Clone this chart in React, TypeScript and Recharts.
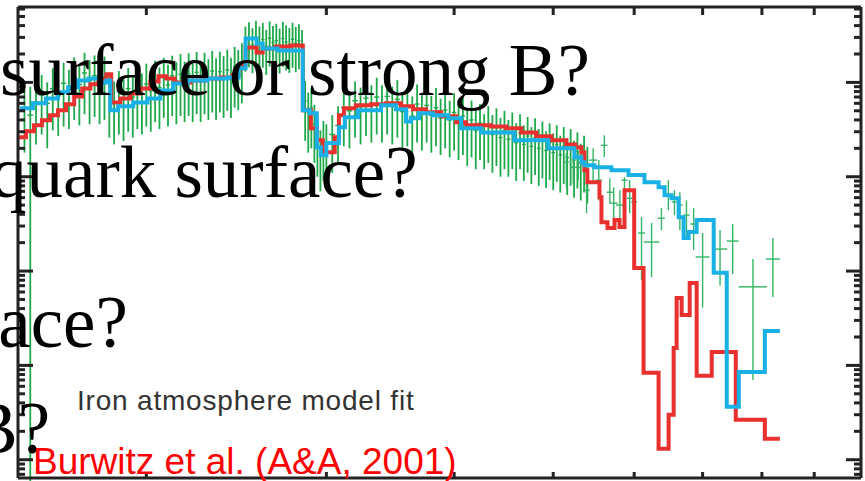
import React from 'react';
import { ComposedChart, Line, Scatter, ErrorBar, XAxis, YAxis } from 'recharts';

// energy axis (keV) ticks
const energyTicks = [0.2, 0.3, 0.4, 0.5, 0.6, 0.7, 0.8, 0.9];

// flux axis decades and minor ticks
const fluxMajorTicks = [0.01, 0.1, 1, 10, 100];
const fluxMinorTicks = [
  0.007, 0.008, 0.009,
  0.02, 0.03, 0.04, 0.05, 0.06, 0.07, 0.08, 0.09,
  0.2, 0.3, 0.4, 0.5, 0.6, 0.7, 0.8, 0.9,
  2, 3, 4, 5, 6, 7, 8, 9,
  20, 30, 40, 50, 60, 70, 80, 90,
  200, 300, 400, 500, 600,
];

// red model: [energy, flux], stepped
const redFit: [number, number][] = [
  [0.1498, 26.2], [0.1525, 30.3], [0.1553, 35.1], [0.1581, 39.6], [0.161, 44.8],
  [0.1639, 50.6], [0.1669, 58.5], [0.17, 71.0], [0.1731, 86.4], [0.1763, 95.3],
  [0.1795, 107.6], [0.1828, 122], [0.1848, 61.4], [0.1886, 67.7], [0.1929, 76.4],
  [0.1973, 86.4], [0.2018, 102.5], [0.2055, 116], [0.2092, 110], [0.2131, 100],
  [0.2209, 105], [0.2285, 110], [0.2364, 113], [0.2429, 119], [0.2462, 141],
  [0.249, 155], [0.2501, 234], [0.2564, 208], [0.2599, 229], [0.2676, 240],
  [0.2769, 246], [0.2845, 50.6], [0.2897, 32.6], [0.2936, 24.3], [0.2976, 18.2],
  [0.3057, 26.2], [0.3086, 44.8], [0.3121, 53.1], [0.3206, 57.1], [0.3317, 58.5],
  [0.3432, 60.0], [0.3549, 55.7], [0.3646, 51.9], [0.3755, 48.2], [0.3885, 43.7],
  [0.4018, 37.7], [0.4109, 35.1], [0.4348, 34.0], [0.4497, 32.6], [0.4653, 29.5],
  [0.4813, 26.8], [0.4979, 24.3], [0.515, 22.0], [0.5256, 20.5], [0.5328, 18.2],
  [0.5364, 11.7], [0.54, 8.74], [0.5549, 6.07], [0.5574, 3.3], [0.565, 2.86],
  [0.574, 3.47], [0.5805, 2.93], [0.5871, 7.19], [0.6, 1.08], [0.6128, 0.0833],
  [0.6339, 0.0131], [0.6484, 0.0299], [0.6558, 0.153], [0.6602, 0.519], [0.6677, 0.343],
  [0.6799, 0.746], [0.6907, 0.0775], [0.7145, 0.139], [0.7543, 0.0265], [0.8053, 0.0167],
  [0.833, 0.0167],
];

// blue model: [energy, flux], stepped
const blueFit: [number, number][] = [
  [0.1505, 53.1], [0.1549, 60.0], [0.1595, 67.7], [0.1639, 78.4], [0.1677, 88.6],
  [0.1715, 105], [0.1755, 110], [0.1803, 100], [0.1828, 105], [0.1844, 50.6],
  [0.1877, 55.7], [0.1942, 61.4], [0.2005, 67.7], [0.2064, 82.3], [0.2125, 97.6],
  [0.2194, 105], [0.2295, 110], [0.2402, 113], [0.2462, 141], [0.2501, 292],
  [0.2564, 258], [0.2599, 229], [0.2688, 218], [0.2845, 50.6], [0.289, 47.0],
  [0.2936, 20.5], [0.2963, 16.9], [0.3, 22.8], [0.3086, 33.4], [0.3128, 42.7],
  [0.3221, 50.6], [0.3393, 57.1], [0.3509, 51.9], [0.3589, 38.6], [0.363, 41.6],
  [0.3696, 47.0], [0.3815, 44.8], [0.3946, 41.6], [0.4063, 32.6], [0.4251, 29.5],
  [0.458, 24.3], [0.4945, 20.1], [0.5244, 16.1], [0.5328, 14.25], [0.5364, 13.2],
  [0.5486, 12.6], [0.5701, 11.7], [0.5924, 10.4], [0.6141, 8.74], [0.6339, 7.74],
  [0.6425, 6.37], [0.6528, 5.92], [0.6632, 3.73], [0.6707, 2.24], [0.6783, 2.59],
  [0.6907, 3.47], [0.7177, 0.957], [0.7391, 0.0364], [0.7594, 0.0853], [0.8053, 0.232],
  [0.833, 0.232],
];

// grating data below 0.3 keV: [energy, flux, error]
const lowBinHalf = 0.001;
const lowBins: [number, number, number][] = [
  [0.152, 52, 34], [0.154, 45, 44.995], [0.156, 62, 40], [0.158, 74, 46], [0.16, 60, 40],
  [0.162, 86, 55], [0.164, 72, 45], [0.166, 98, 64], [0.168, 84, 52], [0.17, 112, 72],
  [0.172, 95, 60], [0.174, 126, 80], [0.176, 104, 68], [0.178, 118, 75], [0.18, 98, 62],
  [0.182, 114, 74], [0.184, 76, 50], [0.186, 62, 40], [0.188, 80, 52], [0.19, 66, 42],
  [0.192, 86, 56], [0.194, 70, 44], [0.196, 92, 60], [0.198, 76, 48], [0.2, 96, 62],
  [0.202, 82, 52], [0.204, 104, 66], [0.206, 88, 56], [0.208, 112, 70], [0.21, 94, 60],
  [0.212, 118, 74], [0.214, 100, 64], [0.216, 122, 78], [0.218, 102, 64], [0.22, 124, 80],
  [0.222, 106, 68], [0.224, 128, 82], [0.226, 104, 66], [0.228, 126, 80], [0.23, 108, 68],
  [0.232, 132, 84], [0.234, 110, 70], [0.236, 130, 82], [0.238, 116, 74], [0.24, 136, 86],
  [0.242, 112, 70], [0.244, 146, 92], [0.246, 136, 85], [0.248, 160, 100], [0.25, 260, 130],
  [0.252, 290, 145], [0.254, 250, 125], [0.256, 300, 150], [0.258, 262, 130], [0.26, 285, 142],
  [0.262, 240, 120], [0.264, 295, 148], [0.266, 265, 132], [0.268, 278, 140], [0.27, 248, 124],
  [0.272, 292, 146], [0.274, 268, 134], [0.276, 252, 126], [0.278, 286, 143], [0.28, 258, 130],
  [0.282, 276, 138], [0.284, 240, 120], [0.286, 64, 40], [0.288, 48, 30], [0.29, 54, 34],
  [0.292, 36, 22], [0.294, 26, 16], [0.296, 19, 12], [0.298, 24, 15], [0.3, 22, 14],
];

// grating data 0.3-0.54 keV: [energy, flux, error]
const highBinHalf = 0.002;
const highBins: [number, number, number][] = [
  [0.304, 28, 17], [0.308, 35, 21], [0.312, 54, 33], [0.316, 50, 30], [0.32, 64, 38],
  [0.324, 55, 33], [0.328, 68, 41], [0.332, 58, 35], [0.336, 70, 42], [0.34, 58, 35],
  [0.344, 71, 43], [0.348, 56, 34], [0.352, 66, 40], [0.356, 49, 30], [0.36, 54, 33],
  [0.364, 44, 27], [0.368, 59, 36], [0.372, 47, 28], [0.376, 57, 34], [0.38, 45, 27],
  [0.384, 54, 33], [0.388, 42, 25], [0.392, 51, 31], [0.396, 40, 24], [0.4, 48, 29],
  [0.404, 37, 22], [0.408, 44, 27], [0.412, 33, 20], [0.416, 40, 24], [0.42, 31, 19],
  [0.424, 37, 22], [0.428, 29, 17], [0.432, 35, 21], [0.436, 28, 17], [0.44, 33, 20],
  [0.444, 26, 16], [0.448, 31, 19], [0.452, 25, 15], [0.456, 30, 18], [0.46, 23, 14],
  [0.464, 29, 17], [0.468, 22, 13], [0.472, 27, 16], [0.476, 21, 12.6], [0.48, 26, 15.6],
  [0.484, 20, 12], [0.488, 24, 14.4], [0.492, 19, 11.4], [0.496, 23, 13.8], [0.5, 18, 10.8],
  [0.504, 22, 13.2], [0.508, 17, 10.2], [0.512, 21, 12.6], [0.516, 16, 9.6], [0.52, 20, 12],
  [0.524, 15, 9], [0.528, 18.5, 11], [0.532, 14, 8.4], [0.536, 17, 10.2], [0.54, 13, 7.8],
];

// rebinned points above 0.5 keV: [energy, flux, low, high, half width]
const sparseBins: [number, number, number, number, number][] = [
  [0.515, 14.3, 7.7, 17.7, 0.003], [0.523, 12.6, 8.5, 16.1, 0.003], [0.529, 12.6, 9.2, 18.2, 0.003],
  [0.539, 7.2, 4.1, 12.6, 0.004], [0.547, 15.0, 8.5, 20.1, 0.005], [0.554, 9.2, 5.6, 15.0, 0.004],
  [0.561, 21.5, 16.1, 27.5, 0.004], [0.568, 6.85, 5.24, 9.64, 0.004], [0.573, 5.24, 3.47, 7.74, 0.005],
  [0.581, 5.0, 3.47, 7.19, 0.005], [0.587, 9.2, 4.1, 9.9, 0.004], [0.594, 5.9, 4.1, 9.2, 0.004],
  [0.6, 5.4, 3.9, 7.2, 0.004], [0.61, 2.53, 0.8, 3.73, 0.005], [0.624, 2.03, 0.86, 3.23, 0.011],
  [0.638, 3.64, 2.72, 4.64, 0.005], [0.648, 6.4, 4.4, 9.2, 0.004], [0.657, 5.4, 3.9, 7.2, 0.004],
  [0.665, 5.0, 2.72, 6.85, 0.004], [0.675, 3.92, 2.29, 5.64, 0.005], [0.686, 3.15, 1.67, 4.64, 0.005],
  [0.7, 1.41, 0.41, 2.53, 0.011], [0.728, 1.71, 0.7, 2.72, 0.012], [0.749, 2.08, 0.93, 3.15, 0.01],
  [0.784, 0.68, 0.07, 1.34, 0.025], [0.82, 1.34, 0.53, 2.24, 0.013],
];

const redData = redFit.map(([x, y]) => ({ x, y }));
const blueData = blueFit.map(([x, y]) => ({ x, y }));
const denseData = [
  ...lowBins.map(([x, y, e]) => ({ x, y, ex: lowBinHalf, ey: e })),
  ...highBins.map(([x, y, e]) => ({ x, y, ex: highBinHalf, ey: e })),
];
const sparseData = sparseBins.map(([x, y, lo, hi, dx]) => ({ x, y, ex: dx, ey: [y - lo, hi - y] }));

const GREEN = '#1fa84a';
const GREEN_LIGHT = '#35b565';
const RED = '#e8312f';
const BLUE = '#19b0e6';
const frame = { stroke: '#222', strokeWidth: 3 };
const noDot = () => <g />;
// keep tick marks, drop the labels
const noLabel = () => <g />;

export default function App() {
  const xProps = {
    type: 'number' as const,
    dataKey: 'x',
    scale: 'log' as const,
    domain: [0.1498, 1],
    allowDataOverflow: true,
    ticks: energyTicks,
    interval: 0 as const,
    mirror: true,
    tick: noLabel,
    tickMargin: 0,
    axisLine: frame,
    tickLine: frame,
  };
  const yProps = {
    type: 'number' as const,
    dataKey: 'y',
    scale: 'log' as const,
    domain: [0.0064, 630],
    allowDataOverflow: true,
    interval: 0 as const,
    mirror: true,
    tick: noLabel,
    tickMargin: 0,
    width: 1,
    tickLine: frame,
  };

  return (
    <div style={{ position: 'absolute', left: 0, top: 0, width: 865, height: 481, background: '#fff', overflow: 'hidden' }}>
      <ComposedChart width={865} height={481} margin={{ top: 7, right: 4, bottom: 3, left: 18 }}>
        <XAxis xAxisId="e" orientation="bottom" tickSize={6} {...xProps} />
        <XAxis xAxisId="eTop" orientation="top" tickSize={8} {...xProps} />
        <YAxis yAxisId="f" orientation="left" ticks={fluxMajorTicks} tickSize={15} axisLine={frame} {...yProps} />
        <YAxis yAxisId="fMinor" orientation="left" ticks={fluxMinorTicks} tickSize={6} axisLine={false} {...yProps} />
        <YAxis yAxisId="fRight" orientation="right" ticks={fluxMajorTicks} tickSize={15} axisLine={frame} {...yProps} />
        <YAxis yAxisId="fRightMinor" orientation="right" ticks={fluxMinorTicks} tickSize={6} axisLine={false} {...yProps} />

        <Scatter xAxisId="e" yAxisId="f" data={denseData} dataKey="y" shape={noDot} isAnimationActive={false}>
          <ErrorBar dataKey="ey" direction="y" width={0} stroke={GREEN} strokeWidth={1.8} />
          <ErrorBar dataKey="ex" direction="x" width={0} stroke={GREEN} strokeWidth={1.4} />
        </Scatter>
        <Scatter xAxisId="e" yAxisId="f" data={sparseData} dataKey="y" shape={noDot} isAnimationActive={false}>
          <ErrorBar dataKey="ey" direction="y" width={0} stroke={GREEN_LIGHT} strokeWidth={1.4} />
          <ErrorBar dataKey="ex" direction="x" width={0} stroke={GREEN_LIGHT} strokeWidth={1.4} />
        </Scatter>

        <Line xAxisId="e" yAxisId="f" data={redData} dataKey="y" type="stepAfter" stroke={RED}
          strokeWidth={4} dot={false} isAnimationActive={false} />
        <Line xAxisId="e" yAxisId="f" data={blueData} dataKey="y" type="stepAfter" stroke={BLUE}
          strokeWidth={4} dot={false} isAnimationActive={false} />
      </ComposedChart>

      <svg width={865} height={481} style={{ position: 'absolute', left: 0, top: 0, pointerEvents: 'none' }}>
        <g fontFamily="'Liberation Serif', 'Times New Roman', serif" fontSize={73} fill="#000">
          <text x={0} y={95}>surface or strong B?</text>
          <text x={-10} y={197}>quark surface?</text>
          <text x={-26} y={347}>face?</text>
          <text x={-31} y={453}>B?</text>
        </g>
        <text x={77} y={410} fontFamily="'Liberation Sans', Arial, sans-serif" fontSize={28}
          letterSpacing={0.8} fill="#333">Iron atmosphere model fit</text>
        <text x={33} y={474} fontFamily="'Liberation Sans', Arial, sans-serif" fontSize={37}
          fill="#ff0000">{'Burwitz et al. (A&A, 2001)'}</text>
      </svg>
    </div>
  );
}
